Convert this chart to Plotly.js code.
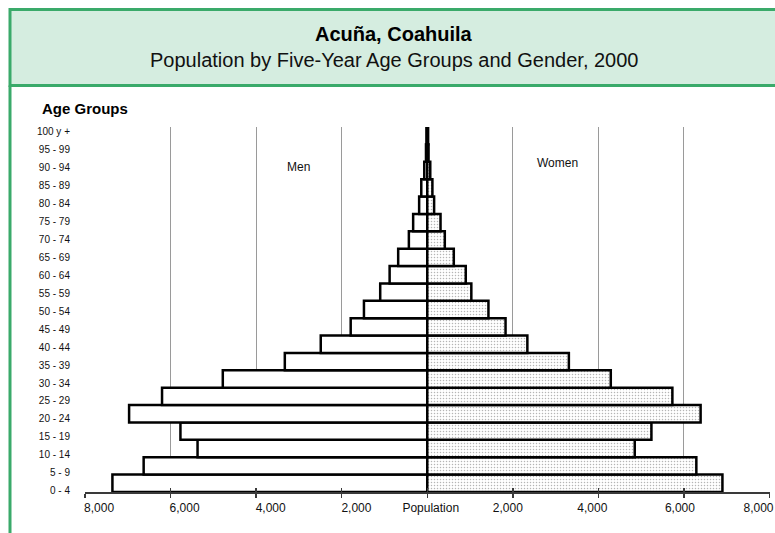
<!DOCTYPE html>
<html>
<head>
<meta charset="utf-8">
<script src="https://cdn.plot.ly/plotly-3.0.1.min.js"></script>
<style>html,body{margin:0;padding:0;background:#fff;}#chart{width:775px;height:533px;}</style>
</head>
<body>
<div id="chart"></div>
<script>
// Age groups, bottom to top
const ageGroups = ["0 - 4","5 - 9","10 - 14","15 - 19","20 - 24","25 - 29","30 - 34","35 - 39","40 - 44","45 - 49","50 - 54","55 - 59","60 - 64","65 - 69","70 - 74","75 - 79","80 - 84","85 - 89","90 - 94","95 - 99","100 y +"];
const men   = [7360, 6630, 5370, 5770, 6970, 6200, 4780, 3330, 2490, 1790, 1480, 1100, 880, 680, 430, 330, 190, 140, 70, 30, 20];
const women = [6900, 6290, 4850, 5240, 6390, 5730, 4290, 3310, 2340, 1830, 1430, 1030, 900, 620, 410, 310, 160, 120, 70, 30, 20];
const xTickVals = [-8000, -6000, -4000, -2000, 0, 2000, 4000, 6000, 8000];
const xTickText = ["8,000", "6,000", "4,000", "2,000", "Population", "2,000", "4,000", "6,000", "8,000"];

const FONT = "Liberation Sans, Arial, Helvetica, sans-serif";
const idx = ageGroups.map((_, i) => i);

// layout geometry helpers (pixel -> paper)
const L = 85, R = 5, T = 127, B = 41, W = 775, H = 533;
const PW = W - L - R, PH = H - T - B;
const px = v => (v - L) / PW;
const py = v => (H - B - v) / PH;
const XR = [-8001, 8012];
const unitsPerPx = (XR[1] - XR[0]) / PW;
// horizontal placement of the axis labels relative to their ticks (pixels), as in the original
const labelShiftPx = [14, 14, 14.5, 14.7, 3.5, -5, -6, -4, -11];
const labelVals = xTickVals.map((v, i) => v + labelShiftPx[i] * unitsPerPx);

const traces = [
  {
    type: "bar", orientation: "h", name: "Men",
    y: idx, x: men.map(v => -v),
    marker: {color: "#ffffff", line: {color: "#000000", width: 2.5}},
    hoverinfo: "skip"
  },
  {
    type: "bar", orientation: "h", name: "Women",
    y: idx, x: women,
    marker: {
      color: "#ffffff",
      pattern: {shape: ".", fgcolor: "#b5b5b5", bgcolor: "#ffffff", size: 3, solidity: 0.2},
      line: {color: "#000000", width: 2.5}
    },
    hoverinfo: "skip"
  },
  // invisible carrier traces for the label axes (x2 / y2) and the inner tick axis (x3)
  {
    type: "scatter", mode: "markers", name: "labels",
    x: women, y: ageGroups, xaxis: "x2", yaxis: "y2",
    marker: {opacity: 0, size: 1}, hoverinfo: "skip"
  },
  {
    type: "scatter", mode: "markers", name: "ticks",
    x: women, y: ageGroups, xaxis: "x3", yaxis: "y2",
    marker: {opacity: 0, size: 1}, hoverinfo: "skip"
  }
];

const layout = {
  width: W, height: H,
  margin: {l: L, r: R, t: T, b: B, pad: 0},
  paper_bgcolor: "#ffffff", plot_bgcolor: "#ffffff",
  showlegend: false,
  barmode: "overlay", bargap: 0,
  font: {family: FONT, color: "#111111"},
  xaxis: {
    range: XR, tickvals: xTickVals, showticklabels: false,
    showgrid: true, gridcolor: "#9a9a9a", gridwidth: 1,
    zeroline: false, showline: true, linecolor: "#3a3a3a", linewidth: 2,
    ticks: "outside", ticklen: 4, tickwidth: 1.5, tickcolor: "#3a3a3a",
    fixedrange: true
  },
  xaxis2: {
    overlaying: "x", anchor: "y2", side: "bottom",
    range: XR, tickvals: labelVals, ticktext: xTickText,
    showgrid: false, zeroline: false, showline: false, ticks: "",
    tickfont: {size: 12, family: FONT, color: "#111"},
    ticklabelstandoff: 7, ticklabeloverflow: "allow",
    fixedrange: true
  },
  xaxis3: {
    overlaying: "x", anchor: "y2", side: "bottom",
    range: XR, tickvals: xTickVals,
    showticklabels: false, showgrid: false, zeroline: false, showline: false,
    ticks: "inside", ticklen: 4, tickwidth: 1.5, tickcolor: "#3a3a3a",
    fixedrange: true
  },
  yaxis: {
    range: [-0.5, 20.5], tickvals: idx, showticklabels: false,
    showgrid: false, zeroline: false, showline: false, ticks: "",
    fixedrange: true
  },
  yaxis2: {
    overlaying: "y", anchor: "x", side: "left",
    type: "category", categoryorder: "array", categoryarray: ageGroups,
    range: [-0.0724, 20.262],
    showgrid: false, zeroline: false, showline: false, ticks: "",
    tickfont: {size: 10, family: FONT, color: "#111"},
    ticklabelstandoff: 14,
    fixedrange: true
  },
  shapes: [
    {type: "rect", xref: "paper", yref: "paper",
     x0: px(10), x1: px(800), y0: py(85.5), y1: py(9.5),
     fillcolor: "#d5ede0", line: {color: "#3aaa6a", width: 3}, layer: "below"},
    {type: "line", xref: "paper", yref: "paper",
     x0: px(10), x1: px(10), y0: py(85.5), y1: py(545),
     line: {color: "#3aaa6a", width: 3}}
  ],
  annotations: [
    {text: "<b>Acuña, Coahuila</b>", xref: "paper", yref: "paper", x: px(394), y: py(34),
     xanchor: "center", yanchor: "middle", showarrow: false, font: {size: 20, family: FONT, color: "#000"}},
    {text: "Population by Five-Year Age Groups and Gender, 2000", xref: "paper", yref: "paper", x: px(394), y: py(60),
     xanchor: "center", yanchor: "middle", showarrow: false, font: {size: 20, family: FONT, color: "#111"}},
    {text: "<b>Age Groups</b>", xref: "paper", yref: "paper", x: px(40), y: py(108),
     xanchor: "left", yanchor: "middle", showarrow: false, font: {size: 15, family: FONT, color: "#000"}},
    {text: "Men", xref: "x", yref: "paper", x: -3000, y: py(167),
     xanchor: "center", yanchor: "middle", showarrow: false, font: {size: 12, family: FONT, color: "#111"}},
    {text: "Women", xref: "x", yref: "paper", x: 3050, y: py(163),
     xanchor: "center", yanchor: "middle", showarrow: false, font: {size: 12, family: FONT, color: "#111"}}
  ]
};

Plotly.newPlot("chart", traces, layout, {displayModeBar: false, staticPlot: true});
</script>
</body>
</html>
